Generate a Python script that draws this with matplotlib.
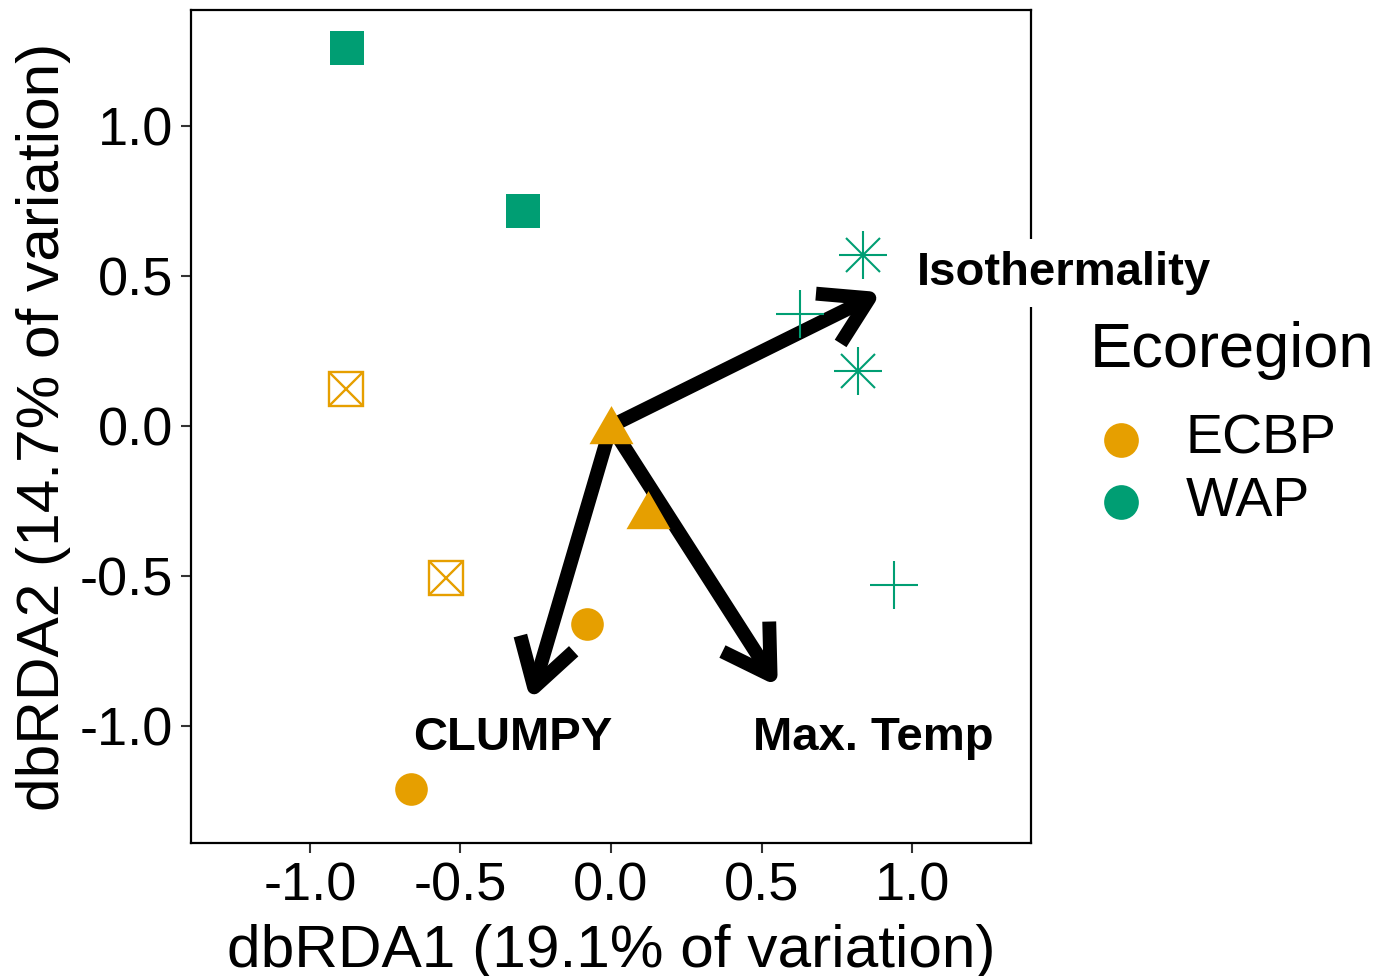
import numpy as np
import matplotlib
matplotlib.use("Agg")
from matplotlib import pyplot as plt
from matplotlib.lines import Line2D
from matplotlib.patches import ArrowStyle

plt.rcParams["font.family"] = ["Liberation Sans", "DejaVu Sans"]

# site scores on the first two dbRDA axes
rda1 = [-0.876, -0.293, -0.880, -0.548, 0.837, 0.820, 0.628, 0.940, 0.000, 0.123, -0.080, -0.665]
rda2 = [1.259, 0.718, 0.124, -0.508, 0.570, 0.183, 0.373, -0.529, -0.015, -0.300, -0.660, -1.210]
ecoregion = ["WAP", "WAP", "ECBP", "ECBP", "WAP", "WAP", "WAP", "WAP",
             "ECBP", "ECBP", "ECBP", "ECBP"]
site_shape = ["square", "square", "boxcross", "boxcross", "asterisk", "asterisk",
              "plus", "plus", "triangle", "triangle", "circle", "circle"]

# fitted environmental vectors
env_names = ["Isothermality", "CLUMPY", "Max. Temp"]
env_x = [0.898, -0.268, 0.554]
env_y = [0.446, -0.914, -0.868]

colours = {"ECBP": "#E69F00", "WAP": "#009E73"}
tri = [(-1, -0.577), (1, -0.577), (0, 1.155)]


def draw_site(ax, x, y, shape, col):
    if shape == "square":
        ax.plot(x, y, "s", ms=23.8, color=col, mew=0, zorder=5)
    elif shape == "boxcross":
        ax.plot(x, y, "s", ms=24, mfc="none", mec=col, mew=1.7, zorder=5)
        ax.plot(x, y, "x", ms=24, mec=col, mew=1.7, zorder=5)
    elif shape == "asterisk":
        ax.plot(x, y, "+", ms=34.5, mec=col, mew=1.5, zorder=5)
        ax.plot(x, y, "x", ms=25, mec=col, mew=1.5, zorder=5)
    elif shape == "plus":
        ax.plot(x, y, "+", ms=34.5, mec=col, mew=1.5, zorder=5)
    elif shape == "triangle":
        ax.plot(x, y, marker=tri, ms=36.6, color=col, mew=0, zorder=5)
    else:
        ax.plot(x, y, "o", ms=23.5, color=col, mew=0, zorder=5)


fig = plt.figure(figsize=(13.83, 9.76), dpi=100)
ax = fig.add_axes([191 / 1383, 1 - 843 / 976, 840 / 1383, 833 / 976])

ax.set_xlim(-1.395, 1.395)
ax.set_ylim(-1.39, 1.387)
ax.set_xticks([-1.0, -0.5, 0.0, 0.5, 1.0])
ax.set_yticks([-1.0, -0.5, 0.0, 0.5, 1.0])
ax.set_xticklabels(["-1.0", "-0.5", "0.0", "0.5", "1.0"])
ax.set_yticklabels(["-1.0", "-0.5", "0.0", "0.5", "1.0"])
ax.tick_params(length=7, width=1.5, color="#333333", labelsize=39, pad=6)
for s in ax.spines.values():
    s.set_linewidth(1.6)

# arrows for the environmental vectors
head = ArrowStyle("->", head_length=33, head_width=20)
for ex, ey in zip(env_x, env_y):
    ax.annotate("", xy=(ex, ey), xytext=(0, 0),
                arrowprops=dict(arrowstyle=head, mutation_scale=1, lw=10, color="black",
                                shrinkA=0, shrinkB=0, joinstyle="round", capstyle="butt"),
                zorder=4)

for x, y, eco, shp in zip(rda1, rda2, ecoregion, site_shape):
    draw_site(ax, x, y, shp, colours[eco])

# vector labels
ax.text(1.017, 0.47, env_names[0], fontsize=34, fontweight="bold", ha="left", va="baseline",
        clip_on=False, zorder=6,
        bbox=dict(boxstyle="square,pad=0.25", fc="white", ec="none"))
ax.text(-0.326, -1.08, env_names[1], fontsize=34, fontweight="bold", ha="center", va="baseline")
ax.text(0.872, -1.08, env_names[2], fontsize=34, fontweight="bold", ha="center", va="baseline")

ax.set_xlabel("dbRDA1 (19.1% of variation)", fontsize=43.5, labelpad=9)
ax.set_ylabel("dbRDA2 (14.7% of variation)", fontsize=43.5, labelpad=6)

# legend drawn by hand
fig.text(1090 / 1383, 1 - 350 / 976, "Ecoregion", fontsize=45.5, ha="left", va="center")
for i, eco in enumerate(["ECBP", "WAP"]):
    yy = 1 - (440 + 62 * i) / 976
    fig.add_artist(Line2D([1121 / 1383], [yy], marker="o", ms=25, color=colours[eco],
                          mew=0, transform=fig.transFigure))
    fig.text(1186 / 1383, yy, eco, fontsize=40, ha="left", va="center")

fig.savefig("out.png", dpi=100)
